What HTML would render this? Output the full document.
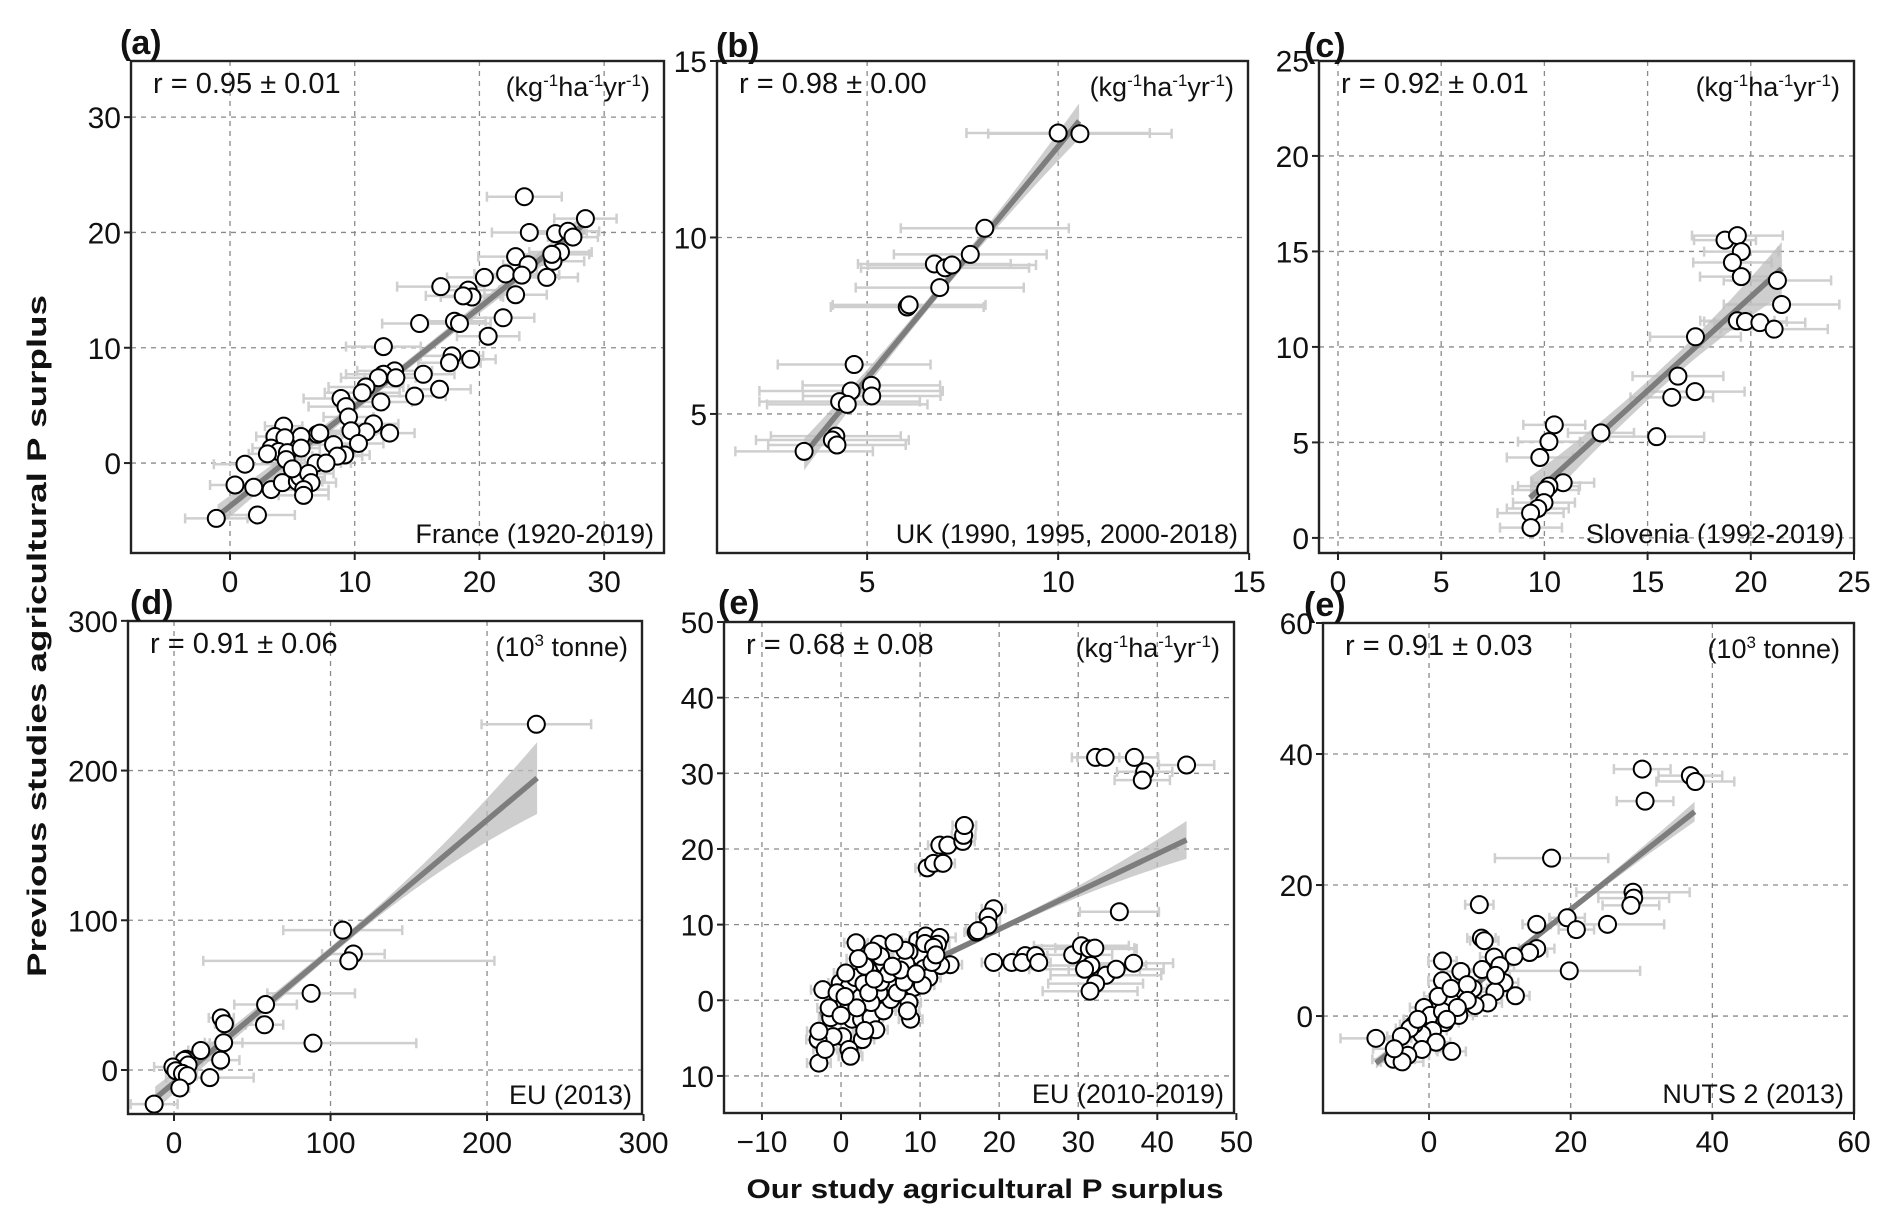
<!DOCTYPE html>
<html><head><meta charset="utf-8"><title>P surplus comparison</title>
<style>
html,body{margin:0;padding:0;background:#fff;}
svg{display:block;font-family:"Liberation Sans",Arial,sans-serif;}
</style></head>
<body>
<svg id="fig" xmlns="http://www.w3.org/2000/svg" width="1892" height="1226" viewBox="0 0 1892 1226">
<rect width="1892" height="1226" fill="#fff"/>
<text transform="translate(46,636) rotate(-90)" text-anchor="middle" font-weight="bold" font-size="27" textLength="682" lengthAdjust="spacingAndGlyphs" fill="#111">Previous studies agricultural P surplus</text>
<text x="985" y="1198" text-anchor="middle" font-weight="bold" font-size="27" textLength="477" lengthAdjust="spacingAndGlyphs" fill="#111">Our study agricultural P surplus</text>
</svg>
<script>
// ---------- Panel (a) France ----------
const aX=[23.6,28.5,24.0,26.1,27.1,27.5,26.5,25.9,25.8,22.9,23.9,22.1,23.4,20.4,25.4,16.9,19.1,19.4,18.7,22.9,21.9,15.2,18.0,18.4,20.7,12.3,17.8,17.6,19.3,13.2,12.3,11.9,13.3,15.5,16.8,10.9,10.6,14.8,8.9,9.3,12.1,9.5,11.5,10.9,9.7,12.8,10.3,8.3,7.0,7.2,5.7,4.3,3.6,4.4,3.3,3.9,4.6,5.7,9.2,8.6,6.9,7.7,1.2,0.4,1.9,3.3,4.2,5.4,5.6,6.3,6.5,5.9,-1.1,2.2,5.9,4.5,5.0,3.0];
const aY=[23.1,21.2,20.0,19.9,20.1,19.6,18.3,17.5,18.1,17.9,17.2,16.4,16.3,16.1,16.1,15.3,15.0,14.4,14.5,14.6,12.6,12.1,12.3,12.1,11.0,10.1,9.3,8.7,9.0,8.0,7.7,7.4,7.4,7.7,6.4,6.6,6.1,5.8,5.6,4.9,5.3,4.0,3.4,2.7,2.8,2.6,1.7,1.6,2.5,2.6,2.3,3.2,2.3,2.2,1.3,1.0,0.9,1.3,0.7,0.6,0.0,0.0,-0.1,-1.9,-2.1,-2.3,-1.7,-1.6,-1.2,-0.9,-1.7,-2.3,-4.8,-4.5,-2.8,0.3,-0.5,0.8];
const aErr=[3,2.5,3,2.5,2.5,2,2.5,2.5,3,3,2,2.5,3,3,2.5,3.5,2.5,2.5,3,2.5,2.5,3,2.5,2.5,2.5,3,2.5,2.5,2,3,3,3,2.5,2.5,2.5,3,3,2.5,3,3,2.5,2,2,2,2,2,2,2,2,2,2,1.5,1.5,1.5,1.5,1.5,1.5,1.5,2,2,2,2,2.5,2,2,2,2,2,2,2,2,2,2.5,3,2,1.5,1.5,1.5];
const aFitX=[-1,28.5], aFitY=[-4.6,20.8], aBand=[1.0,0.4,0.9];
const aXTicks=[0,10,20,30], aYTicks=[0,10,20,30];
const aXLabels=["0","10","20","30"], aYLabels=["0","10","20","30"];

// ---------- Panel (b) UK ----------
const bX=[10.0,10.57,8.08,7.70,6.76,7.04,7.22,6.90,6.05,6.10,4.66,5.11,5.12,4.58,4.28,4.48,4.18,4.09,4.21,3.35];
const bY=[12.96,12.94,10.26,9.52,9.25,9.14,9.22,8.58,8.03,8.09,6.40,5.81,5.51,5.65,5.35,5.27,4.37,4.26,4.12,3.94];
const bErr=[2.4,2.4,2.2,2.0,2.0,2.2,2.2,2.2,2.0,2.0,2.0,1.8,1.8,2.4,2.1,2.1,1.7,2.0,1.8,1.8];
const bFitX=[3.35,10.55], bFitY=[3.85,13.3], bBand=[0.45,0.15,0.5];
const bXTicks=[5,10,15], bYTicks=[5,10,15];
const bXLabels=["5","10","15"], bYLabels=["5","10","15"];

// ---------- Panel (c) Slovenia ----------
const cX=[18.75,19.35,19.54,19.11,19.54,21.29,21.49,17.32,19.35,19.74,20.44,21.13,16.47,16.17,17.30,15.44,12.74,10.48,10.22,9.78,10.91,10.22,10.06,9.98,9.68,9.33,9.35];
const cY=[15.59,15.83,14.99,14.42,13.68,13.48,12.22,10.53,11.37,11.33,11.27,10.93,8.47,7.36,7.66,5.30,5.50,5.92,5.04,4.21,2.89,2.71,2.51,1.85,1.54,1.30,0.54];
const cErr=[1.5,2.2,1.8,1.9,2.0,2.6,2.8,2.2,1.8,2.0,2.2,2.6,2.2,2.0,2.4,2.3,1.6,1.5,1.5,1.6,1.5,1.5,1.6,1.5,1.5,1.6,1.5];
const cFitX=[9.3,21.5], cFitY=[2.1,14.1], cBand=[1.1,0.5,1.4];
const cXTicks=[0,5,10,15,20,25], cYTicks=[0,5,10,15,20,25];
const cXLabels=["0","5","10","15","20","25"], cYLabels=["0","5","10","15","20","25"];

// ---------- Panel (d) EU 2013 ----------
const dX=[231.5,107.8,114.6,111.7,87.6,58.5,57.8,30.2,32.2,31.7,29.8,88.8,17.1,22.9,7.8,6.6,9.0,-0.7,1.2,5.4,8.5,3.7,-12.7];
const dY=[230.9,93.4,77.5,72.9,51.2,43.7,30.2,34.8,30.9,18.2,6.6,17.9,13.0,-5.1,7.2,6.4,3.3,2.0,-0.5,-2.3,-3.8,-12.0,-22.8];
const dErr=[35,38,20,93,28,20,12,8,6,12,12,66,8,28,6,6,6,12,6,6,6,6,15];
const dFitX=[-12,232], dFitY=[-19,195], dBand=[8,3,24];
const dXTicks=[0,100,200,300], dYTicks=[0,100,200,300];
const dXLabels=["0","100","200","300"], dYLabels=["0","100","200","300"];

// ---------- Panel (e) EU 2010-2019 ----------
const eX=[10.9,11.7,12.9,12.5,13.5,15.4,15.5,15.6,19.3,18.6,18.6,17.1,19.3,21.6,23.3,22.9,24.6,25.0,
32.2,33.4,37.1,38.4,38.1,43.7,
29.3,30.4,31.4,32.1,31.6,30.8,33.5,34.8,37.0,32.2,31.5,35.2,
17.3,1.9,4.8,4.4,3.8,5.4,3.5,
9.7,10.7,12.5,12.2,10.1,8.6,8.2,10.5,13.8,12.6,11.1,9.2,7.1,6.3,8.6,8.8,8.4,
-2.3,-0.1,1.0,1.8,2.5,-0.1,1.0,-1.3,1.4,2.6,3.8,5.4,4.4,2.7,0.2,-1.0,-2.9,-2.8,1.0,1.2,-2.8,
6.3,7.1,4.8,3.8,-0.5,0.6,2.9,5.0,8.0,10.3,8.1,10.6,11.7,6.7,5.0,3.0,4.0,2.0,0.5,3.5,6.0,7.5,9.5,11.5,12.0,2.2,4.2,-1.5,0.0,-2.0,3.0,6.5];
const eY=[17.5,18.1,18.1,20.5,20.5,21.0,21.8,23.1,12.1,11.0,9.9,9.0,5.0,5.0,5.9,5.0,5.9,5.0,
32.1,32.1,32.1,30.2,29.1,31.1,
6.0,7.2,6.8,6.9,4.6,4.1,3.3,4.1,4.9,2.2,1.2,11.7,
9.2,7.6,7.4,6.2,5.3,4.8,3.9,
7.9,8.5,8.3,7.4,5.7,6.4,4.8,4.2,4.7,4.6,3.0,1.7,2.1,2.1,-0.3,-2.5,-1.4,
1.4,2.3,1.7,3.0,0.4,-0.3,-0.9,-2.3,-2.5,-2.5,-2.3,-1.4,-3.9,-5.2,-4.8,-4.8,-5.2,-4.1,-6.5,-7.4,-8.3,
0.1,1.0,1.0,-0.3,1.0,3.6,2.2,2.4,2.4,2.0,6.6,7.5,7.0,7.6,5.8,4.5,6.5,-1.0,0.5,1.0,3.5,4.0,3.5,5.0,6.0,5.5,2.8,-1.0,-2.0,-6.5,-4.0,4.5];
const eErr=[1.5,1.5,1.5,1.5,1.5,1.5,1.5,1.5,1.5,1.5,1.5,1.5,1.5,1.5,1.5,1.5,1.5,1.5,
3,3.5,3,3.5,3.5,3.5,
5,6,6,5,7,7,7,6,5,6,6,5,
1.5,1.5,1.5,2,2,1.5,1.5,
2,2,2,1.5,2,2,1.5,1.5,1.5,1.5,1.5,1.5,1.5,1.5,1.5,1.5,1.5,
1.5,1.5,1.5,1.5,1.5,1.5,1.5,1.5,1.5,1.5,1.5,1.5,1.5,1.5,1.5,1.5,1.5,1.5,1.5,1.5,1.5,
1.5,1.5,1.5,1.5,1.5,1.5,1.5,1.5,1.5,1.5,1.5,1.5,1.5,1.5,1.5,1.5,1.5,1.5,1.5,1.5,1.5,1.5,1.5,1.5,1.5,1.5,1.5,1.5,1.5,1.5,1.5,1.5];
const eFitX=[-2.7,43.7], eFitY=[-1.9,21.2], eBand=[1.0,0.4,2.5];
const eXTicks=[-10,0,10,20,30,40,50], eYTicks=[-10,0,10,20,30,40,50];
const eXLabels=["\u221210","0","10","20","30","40","50"], eYLabels=["10","0","10","20","30","40","50"];

// ---------- Panel (e) NUTS 2 ----------
const fX=[30.1,36.9,37.6,30.5,17.3,28.8,28.9,28.5,25.2,19.5,20.8,15.2,7.1,7.4,7.8,19.8,15.2,14.2,12.0,9.2,12.2,10.6,10.0,7.5,4.5,1.9,1.9,6.2,9.3,8.3,6.5,4.2,3.1,0.8,-0.7,0.2,1.9,4.2,2.2,0.5,-1.0,-2.1,-2.7,-3.9,1.0,-1.0,3.2,-3.0,-5.0,-3.8,-4.9,-7.5,1.3,3.1,5.4,9.4,5.4,4.0,2.5,-1.6];
const fY=[37.7,36.7,35.8,32.8,24.1,18.9,18.0,16.9,14.0,15.0,13.2,14.0,17.0,11.9,11.5,6.9,10.3,9.7,9.1,9.0,3.1,5.1,7.7,7.1,6.8,8.4,5.4,4.2,3.7,2.0,1.6,3.3,2.2,1.4,1.3,0.1,0.7,0.1,-1.0,-2.2,-2.8,-1.3,-1.9,-3.1,-4.0,-5.1,-5.4,-6.0,-6.6,-7.0,-5.0,-3.4,3.0,4.2,4.8,6.2,2.4,1.3,-0.5,-0.5];
const fErr=[4,4.5,5.5,4,8,8,5,4,8,2.5,2.5,2,2,2,2,10,2.5,2.5,2.5,2,2,2,2,2,2,2,2,2,2,2,2,2,2,2,2,2,2,2,2,2,2,2,2,2,2,2,2,3,3,3,3,5,2,2,2,2,2,2,2,2];
const fFitX=[-7.5,37.5], fFitY=[-7.2,31.2], fBand=[0.8,0.4,1.5];
const fXTicks=[0,20,40,60], fYTicks=[0,20,40,60];
const fXLabels=["0","20","40","60"], fYLabels=["0","20","40","60"];

const NS="http://www.w3.org/2000/svg";
const svg=document.getElementById('fig');
function mk(tag,attrs,parent){const e=document.createElementNS(NS,tag);for(const k in attrs)e.setAttribute(k,attrs[k]);(parent||svg).appendChild(e);return e;}

const panels=[
 {key:'a',tag:'(a)',L:131,R:664,T:61,B:553,x0:-7.94,x1:34.8,y0:-7.8,y1:34.87,X:aX,Y:aY,E:aErr,fx:aFitX,fy:aFitY,band:aBand,xt:aXTicks,yt:aYTicks,xl:aXLabels,yl:aYLabels,r:"r = 0.95 \u00b1 0.01",unit:'kg',region:"France (1920-2019)",tx:120,ty:54},
 {key:'b',tag:'(b)',L:717,R:1248,T:61,B:553,x0:1.07,x1:14.97,y0:1.06,y1:15,X:bX,Y:bY,E:bErr,fx:bFitX,fy:bFitY,band:bBand,xt:bXTicks,yt:bYTicks,xl:bXLabels,yl:bYLabels,r:"r = 0.98 \u00b1 0.00",unit:'kg',region:"UK (1990, 1995, 2000-2018)",tx:716,ty:57},
 {key:'c',tag:'(c)',L:1319,R:1854,T:61,B:553,x0:-0.92,x1:25,y0:-0.79,y1:24.97,X:cX,Y:cY,E:cErr,fx:cFitX,fy:cFitY,band:cBand,xt:cXTicks,yt:cYTicks,xl:cXLabels,yl:cYLabels,r:"r = 0.92 \u00b1 0.01",unit:'kg',region:"Slovenia (1992-2019)",tx:1304,ty:57},
 {key:'d',tag:'(d)',L:128,R:642,T:621,B:1114,x0:-29.4,x1:299,y0:-29.4,y1:299.9,X:dX,Y:dY,E:dErr,fx:dFitX,fy:dFitY,band:dBand,xt:dXTicks,yt:dYTicks,xl:dXLabels,yl:dYLabels,r:"r = 0.91 \u00b1 0.06",unit:'t',region:"EU (2013)",tx:130,ty:614},
 {key:'e',tag:'(e)',L:724,R:1234,T:622,B:1113,x0:-14.8,x1:49.7,y0:-14.9,y1:50,X:eX,Y:eY,E:eErr,fx:eFitX,fy:eFitY,band:eBand,xt:eXTicks,yt:eYTicks,xl:eXLabels,yl:eYLabels,r:"r = 0.68 \u00b1 0.08",unit:'kg',region:"EU (2010-2019)",tx:718,ty:614},
 {key:'f',tag:'(e)',L:1323,R:1854,T:623,B:1113,x0:-14.97,x1:60,y0:-14.8,y1:60,X:fX,Y:fY,E:fErr,fx:fFitX,fy:fFitY,band:fBand,xt:fXTicks,yt:fYTicks,xl:fXLabels,yl:fYLabels,r:"r = 0.91 \u00b1 0.03",unit:'t',region:"NUTS 2 (2013)",tx:1304,ty:616}
];

panels.forEach(p=>{
  const sx=v=>p.L+(v-p.x0)/(p.x1-p.x0)*(p.R-p.L);
  const sy=v=>p.B-(v-p.y0)/(p.y1-p.y0)*(p.B-p.T);
  const g=mk('g',{});
  
  
  const clipId='clip-'+p.key;
  const cp=mk('clipPath',{id:clipId},g);
  mk('rect',{x:p.L,y:p.T,width:p.R-p.L,height:p.B-p.T},cp);
  const grid=mk('g',{'clip-path':'url(#'+clipId+')'},g);
  
  
  p.xt.forEach(v=>{const x=sx(v);mk('line',{x1:x,x2:x,y1:p.T,y2:p.B,stroke:'#8a8a8a','stroke-width':1.3,'stroke-dasharray':'5,5'},grid);});
  p.yt.forEach(v=>{const y=sy(v);mk('line',{x1:p.L,x2:p.R,y1:y,y2:y,stroke:'#8a8a8a','stroke-width':1.3,'stroke-dasharray':'5,5'},grid);});
  const plot=mk('g',{'clip-path':'url(#'+clipId+')'},g);
  const eg=mk('g',{},plot);
  
  
  p.X.forEach((v,i)=>{
    const e=p.E[i]||0; if(!e) return;
    const y=sy(p.Y[i]), xa=sx(v-e), xb=sx(v+e);
    mk('line',{x1:xa,x2:xb,y1:y,y2:y,stroke:'#cfcfcf','stroke-width':2.5},eg);
    mk('line',{x1:xa,x2:xa,y1:y-5,y2:y+5,stroke:'#cfcfcf','stroke-width':2.5},eg);
    mk('line',{x1:xb,x2:xb,y1:y-5,y2:y+5,stroke:'#cfcfcf','stroke-width':2.5},eg);
  });
  const N=40, up=[], lo=[];
  for(let k=0;k<=N;k++){
    const t=k/N, xv=p.fx[0]+(p.fx[1]-p.fx[0])*t, yv=p.fy[0]+(p.fy[1]-p.fy[0])*t;
    const s=(2*t-1)*(2*t-1), w=p.band[1]+((t<0.5?p.band[0]:p.band[2])-p.band[1])*s;
    up.push(sx(xv).toFixed(1)+','+sy(yv+w).toFixed(1));
    lo.unshift(sx(xv).toFixed(1)+','+sy(yv-w).toFixed(1));
  }
  const band=mk('polygon',{points:up.concat(lo).join(' '),fill:'#bdbdbd','fill-opacity':0.75},plot);
  
  
  const fit=mk('line',{x1:sx(p.fx[0]),y1:sy(p.fy[0]),x2:sx(p.fx[1]),y2:sy(p.fy[1]),stroke:'#7d7d7d','stroke-width':5.5},plot);
  
  
  const pg=mk('g',{},plot);
  
  
  p.X.forEach((v,i)=>{
    const c=mk('circle',{cx:sx(v),cy:sy(p.Y[i]),r:8.5,fill:'#fff',stroke:'#000','stroke-width':2},pg);
    
    
  });
  const fr=mk('rect',{x:p.L,y:p.T,width:p.R-p.L,height:p.B-p.T,fill:'none',stroke:'#222','stroke-width':2.4},g);
  
  
  p.xt.forEach((v,i)=>{
    const x=sx(v);
    mk('line',{x1:x,x2:x,y1:p.B,y2:p.B+7,stroke:'#222','stroke-width':2},g);
    const t=mk('text',{x:x,y:p.B+39,'text-anchor':'middle','font-size':30,fill:'#111'},g);
    t.textContent=p.xl[i];
    
    
  });
  p.yt.forEach((v,i)=>{
    const y=sy(v);
    mk('line',{x1:p.L-7,x2:p.L,y1:y,y2:y,stroke:'#222','stroke-width':2},g);
    const t=mk('text',{x:p.L-10,y:y+11,'text-anchor':'end','font-size':30,fill:'#111'},g);
    t.textContent=p.yl[i];
    
    
  });
  const lab=mk('text',{x:p.tx,y:p.ty,'font-size':34,'font-weight':'bold',fill:'#111'},g);
  lab.textContent=p.tag;
  
  
  const rt=mk('text',{x:p.L+22,y:p.T+32,'font-size':29,fill:'#111'},g);
  rt.textContent=p.r;
  
  
  const ut=mk('text',{x:p.R-14,y:p.T+35,'text-anchor':'end','font-size':27,fill:'#111'},g);
  
  
  if(p.unit==='kg'){
    ut.innerHTML='(kg<tspan dy="-10" font-size="17">-1</tspan><tspan dy="10">ha</tspan><tspan dy="-10" font-size="17">-1</tspan><tspan dy="10">yr</tspan><tspan dy="-10" font-size="17">-1</tspan><tspan dy="10">)</tspan>';
  } else {
    ut.innerHTML='(10<tspan dy="-10" font-size="17">3</tspan><tspan dy="10"> tonne)</tspan>';
  }
  const rg=mk('text',{x:p.R-10,y:p.B-10,'text-anchor':'end','font-size':27,fill:'#111'},g);
  rg.textContent=p.region;
  
  
});
</script>
</body></html>
